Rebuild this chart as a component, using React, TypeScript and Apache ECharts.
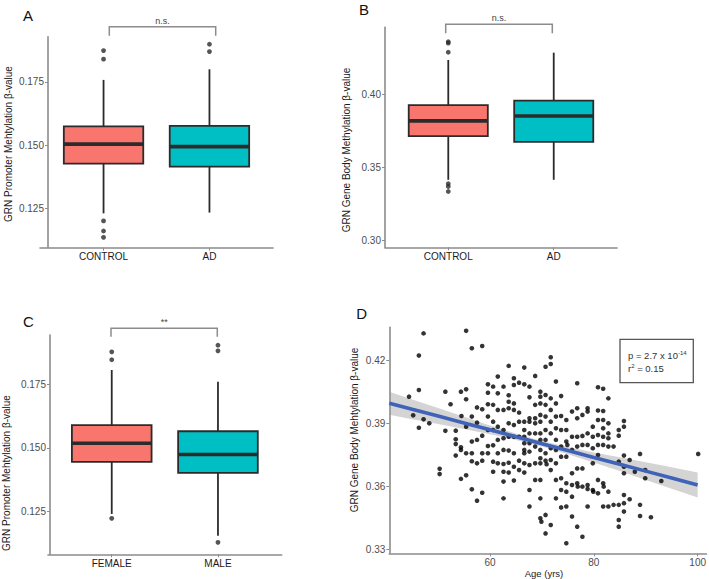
import React, { useEffect, useRef } from "react";
import * as echarts from "echarts";

// ---------- data ----------
const dxCategories = ["CONTROL", "AD"];
const sexCategories = ["FEMALE", "MALE"];
const boxColors = ["#F8766D", "#00BFC4"];

// [lower whisker, Q1, median, Q3, upper whisker]
const promoterByDx = [
  [0.1230, 0.1427, 0.1504, 0.1574, 0.1758],
  [0.1233, 0.1415, 0.1494, 0.1576, 0.1800],
];
const promoterByDxOutliers = [
  [0.1874, 0.1840, 0.1200, 0.1160, 0.1135],
  [0.1899, 0.1870],
];
const bodyByDx = [
  [0.3413, 0.3712, 0.3817, 0.3925, 0.4235],
  [0.3413, 0.3673, 0.3851, 0.3956, 0.4285],
];
const bodyByDxOutliers = [
  [0.4360, 0.4350, 0.4288, 0.3386, 0.3367, 0.3333],
  [],
];
const promoterBySex = [
  [0.1241, 0.1445, 0.1518, 0.1589, 0.1805],
  [0.1156, 0.1402, 0.1474, 0.1565, 0.1759],
];
const promoterBySexOutliers = [
  [0.1876, 0.1845, 0.1224],
  [0.1902, 0.1880, 0.1130],
];

const promoterTicks = [0.125, 0.15, 0.175];
const bodyTicks = [0.3, 0.35, 0.4];
const ageTicks = [60, 80, 100];
const ageBodyTicks = [0.33, 0.36, 0.39, 0.42];

// [age, body methylation beta]
const agePoints = [
  [44.4, 0.4028],
  [45.2, 0.3939],
  [46.3, 0.4224], [46.3, 0.4060], [46.3, 0.3880],
  [47.2, 0.4330], [47.2, 0.3920],
  [48.3, 0.3901],
  [50.3, 0.3684], [50.3, 0.3659],
  [51.4, 0.4052], [51.4, 0.3865],
  [52.4, 0.3992],
  [53.4, 0.3866], [53.4, 0.3825], [53.4, 0.3802], [53.4, 0.3747],
  [54.4, 0.4052], [54.4, 0.3787], [54.4, 0.3774], [54.4, 0.3636],
  [54.5, 0.3936],
  [55.4, 0.4342], [55.4, 0.4063], [55.4, 0.4016], [55.4, 0.3885], [55.4, 0.3758], [55.4, 0.3653],
  [56.5, 0.4259], [56.5, 0.3933], [56.5, 0.3814], [56.5, 0.3758], [56.5, 0.3720], [56.5, 0.3586],
  [57.5, 0.3977], [57.5, 0.3904], [57.5, 0.3822], [57.5, 0.3710], [57.5, 0.3532],
  [58.5, 0.4270], [58.5, 0.3968], [58.5, 0.3842], [58.5, 0.3758], [58.5, 0.3723], [58.5, 0.3570],
  [59.6, 0.4087], [59.6, 0.4047], [59.6, 0.3992], [59.6, 0.3933], [59.6, 0.3869], [59.6, 0.3793], [59.6, 0.3758],
  [60.6, 0.4076], [60.6, 0.3989], [60.6, 0.3909], [60.6, 0.3869], [60.6, 0.3796], [60.6, 0.3718], [60.6, 0.3670],
  [61.5, 0.4124], [61.5, 0.4044], [61.5, 0.3965], [61.5, 0.3885], [61.5, 0.3822], [61.5, 0.3758], [61.5, 0.3710],
  [62.6, 0.4076], [62.6, 0.3965], [62.6, 0.3869], [62.6, 0.3830], [62.6, 0.3774], [62.6, 0.3707], [62.6, 0.3670], [62.6, 0.3623], [62.6, 0.3543],
  [63.6, 0.4175], [63.6, 0.4035], [63.6, 0.4004], [63.6, 0.3973], [63.6, 0.3901], [63.6, 0.3837], [63.6, 0.3771], [63.6, 0.3713], [63.6, 0.3666],
  [64.6, 0.4116], [64.6, 0.4084], [64.6, 0.3996], [64.6, 0.3965], [64.6, 0.3893], [64.6, 0.3837], [64.6, 0.3758], [64.6, 0.3694], [64.6, 0.3628],
  [65.6, 0.4095], [65.6, 0.3952], [65.6, 0.3909], [65.6, 0.3837], [65.6, 0.3723], [65.6, 0.3678],
  [66.6, 0.4167], [66.6, 0.4087], [66.6, 0.3909], [66.6, 0.3869], [66.6, 0.3837], [66.6, 0.3806], [66.6, 0.3774], [66.6, 0.3758], [66.6, 0.3710], [66.6, 0.3666],
  [67.6, 0.4076], [67.6, 0.4025], [67.6, 0.3925], [67.6, 0.3909], [67.6, 0.3853], [67.6, 0.3806], [67.6, 0.3766], [67.6, 0.3702], [67.6, 0.3583], [67.6, 0.3504],
  [68.7, 0.4127], [68.7, 0.3989], [68.7, 0.3925], [68.7, 0.3901], [68.7, 0.3853], [68.7, 0.3790], [68.7, 0.3710], [68.7, 0.3631],
  [69.7, 0.4052], [69.7, 0.4028], [69.7, 0.3996], [69.7, 0.3941], [69.7, 0.3909], [69.7, 0.3853], [69.7, 0.3822], [69.7, 0.3774], [69.7, 0.3734], [69.7, 0.3710], [69.7, 0.3631], [69.7, 0.3543], [69.7, 0.3448], [69.9, 0.3432],
  [70.7, 0.4171], [70.7, 0.4036], [70.7, 0.3989], [70.7, 0.3933], [70.7, 0.3869], [70.7, 0.3822], [70.7, 0.3758], [70.7, 0.3723], [70.9, 0.3706], [70.7, 0.3464], [70.7, 0.3376],
  [71.7, 0.4216], [71.7, 0.4184], [71.7, 0.4020], [71.7, 0.3965], [71.7, 0.3909], [71.7, 0.3853], [71.7, 0.3782], [71.7, 0.3726], [71.7, 0.3678], [71.7, 0.3416],
  [72.7, 0.4100], [72.7, 0.3996], [72.7, 0.3933], [72.7, 0.3877], [72.7, 0.3822], [72.7, 0.3774], [72.7, 0.3710], [72.7, 0.3631], [72.7, 0.3543],
  [73.7, 0.4031], [73.7, 0.3936], [73.7, 0.3869], [73.7, 0.3790], [73.7, 0.3742], [73.7, 0.3639], [73.7, 0.3583], [73.7, 0.3500],
  [74.7, 0.3917], [74.7, 0.3869], [74.7, 0.3814], [74.9, 0.3798], [74.7, 0.3742], [74.7, 0.3615], [74.7, 0.3575], [74.7, 0.3504], [74.7, 0.3329],
  [75.8, 0.3957], [75.8, 0.3837], [75.8, 0.3774], [75.8, 0.3663], [75.8, 0.3607], [75.8, 0.3551], [75.8, 0.3456],
  [76.8, 0.4092], [76.8, 0.3973], [76.8, 0.3925], [76.8, 0.3837], [76.8, 0.3790], [76.8, 0.3686], [76.8, 0.3615], [76.9, 0.3599], [76.8, 0.3408],
  [77.8, 0.3941], [77.8, 0.3841], [77.8, 0.3798], [77.8, 0.3686], [77.8, 0.3599], [77.8, 0.3360],
  [78.8, 0.3973], [78.8, 0.3957], [78.8, 0.3853], [78.8, 0.3798], [78.8, 0.3607], [78.8, 0.3588], [78.8, 0.3504],
  [79.8, 0.3885], [79.8, 0.3837], [79.8, 0.3782], [79.8, 0.3710], [79.8, 0.3583], [79.9, 0.3575],
  [80.8, 0.4073], [80.8, 0.3962], [80.8, 0.3917], [80.8, 0.3845], [80.8, 0.3798], [80.8, 0.3750], [80.8, 0.3631], [80.8, 0.3567],
  [81.8, 0.4066], [81.8, 0.3960], [81.8, 0.3917], [81.8, 0.3877], [81.8, 0.3837], [81.8, 0.3798], [81.8, 0.3615], [81.9, 0.3599], [81.8, 0.3504],
  [82.8, 0.4020], [82.8, 0.3901], [82.8, 0.3853], [82.8, 0.3830], [82.8, 0.3790], [82.8, 0.3575], [82.8, 0.3504],
  [83.8, 0.3790], [83.8, 0.3512],
  [84.8, 0.3869], [84.8, 0.3842], [84.8, 0.3718], [84.8, 0.3512], [84.8, 0.3440], [84.8, 0.3408],
  [85.8, 0.3912], [85.8, 0.3885], [85.8, 0.3747], [85.8, 0.3694], [85.8, 0.3663], [85.8, 0.3559], [85.8, 0.3520], [85.8, 0.3480],
  [86.9, 0.3726], [86.9, 0.3539],
  [87.9, 0.3670],
  [88.9, 0.3755], [88.9, 0.3512], [88.9, 0.3459],
  [89.9, 0.3678], [89.9, 0.3639],
  [91.0, 0.3453],
  [93.0, 0.3626],
  [100.1, 0.3755],
];

// linear fit with 95% confidence band
const fitAge = [40.6, 45, 50, 55, 60, 65, 70, 75, 80, 85, 90, 95, 100];
const fitValue = [0.3997, 0.3968, 0.3936, 0.3903, 0.3870, 0.3837, 0.3804, 0.3771, 0.3738, 0.3706, 0.3673, 0.3640, 0.3607];
const fitLow = [0.3942, 0.3921, 0.3898, 0.3874, 0.3849, 0.3822, 0.3791, 0.3754, 0.3714, 0.3673, 0.3631, 0.3589, 0.3547];
const fitHigh = [0.4052, 0.4015, 0.3974, 0.3932, 0.3891, 0.3852, 0.3817, 0.3788, 0.3762, 0.3739, 0.3715, 0.3691, 0.3667];

// ---------- styling helpers ----------
const FONT = "'Liberation Sans', Arial, Helvetica, sans-serif";
const AXIS_GREY = "#8c8c8c";
const DARK = "#2b2b2b";

function yAxisDef(gridIndex: number, min: number, max: number, ticks: number[], digits: number, offset = 0) {
  return {
    type: "value",
    gridIndex,
    min,
    max,
    offset,
    axisLine: { show: true, onZero: false, lineStyle: { color: AXIS_GREY, width: 1.6 } },
    axisTick: { show: true, length: 3, customValues: ticks, lineStyle: { color: AXIS_GREY, width: 1 } },
    axisLabel: {
      customValues: ticks,
      formatter: (v: number) => v.toFixed(digits),
      fontSize: 10,
      color: "#4d4d4d",
      margin: 4,
      fontFamily: FONT,
    },
    splitLine: { show: false },
  };
}

function catXAxisDef(gridIndex: number, cats: string[]) {
  return {
    type: "value",
    gridIndex,
    min: 0.4,
    max: 2.6,
    axisLine: { show: true, onZero: false, lineStyle: { color: AXIS_GREY, width: 1.6 } },
    axisTick: { show: true, length: 3, customValues: [1, 2], lineStyle: { color: AXIS_GREY, width: 1 } },
    axisLabel: {
      customValues: [1, 2],
      formatter: (v: number) => cats[Math.round(v) - 1] ?? "",
      fontSize: 10,
      color: "#1a1a1a",
      margin: 4,
      fontFamily: FONT,
    },
    splitLine: { show: false },
  };
}

function boxSeries(gridIndex: number, stats: number[][]) {
  return {
    type: "custom",
    xAxisIndex: gridIndex,
    yAxisIndex: gridIndex,
    encode: { x: 0, y: [1, 2, 3, 4, 5] },
    data: stats.map((s, i) => [i + 1, ...s]),
    renderItem: (params: any, api: any) => {
      const x = api.value(0);
      const pts = [1, 2, 3, 4, 5].map((d) => api.coord([x, api.value(d)]));
      const cx = pts[0][0];
      const half = api.size([0.75, 0])[0] / 2;
      const fill = boxColors[params.dataIndex % boxColors.length];
      return {
        type: "group",
        children: [
          { type: "line", shape: { x1: cx, y1: pts[4][1], x2: cx, y2: pts[3][1] }, style: { stroke: DARK, lineWidth: 1.8 } },
          { type: "line", shape: { x1: cx, y1: pts[1][1], x2: cx, y2: pts[0][1] }, style: { stroke: DARK, lineWidth: 1.8 } },
          {
            type: "rect",
            shape: { x: cx - half, y: pts[3][1], width: half * 2, height: pts[1][1] - pts[3][1] },
            style: { fill, stroke: DARK, lineWidth: 1.8 },
          },
          { type: "line", shape: { x1: cx - half, y1: pts[2][1], x2: cx + half, y2: pts[2][1] }, style: { stroke: DARK, lineWidth: 3.6 } },
        ],
      };
    },
  };
}

function outlierSeries(gridIndex: number, outliers: number[][]) {
  const data: number[][] = [];
  outliers.forEach((arr, i) => arr.forEach((v) => data.push([i + 1, v])));
  return {
    type: "scatter",
    xAxisIndex: gridIndex,
    yAxisIndex: gridIndex,
    data,
    symbolSize: 4.8,
    itemStyle: { color: DARK },
    silent: true,
  };
}

function bracket(x1: number, x2: number, y: number, drop: number, label: string) {
  return [
    {
      type: "polyline",
      shape: { points: [[x1, y + drop], [x1, y], [x2, y], [x2, y + drop]] },
      style: { stroke: AXIS_GREY, lineWidth: 1.5, fill: null },
    },
    {
      type: "text",
      x: (x1 + x2) / 2,
      y: y - 6,
      style: { text: label, fontSize: 9, fill: "#444", align: "center", verticalAlign: "middle", fontFamily: FONT },
    },
  ];
}

function vTitle(x: number, y: number, text: string) {
  return {
    type: "text",
    x,
    y,
    rotation: Math.PI / 2,
    style: { text, fontSize: 10, fill: "#1a1a1a", align: "center", verticalAlign: "middle", fontFamily: FONT },
  };
}

function panelLetter(x: number, y: number, text: string) {
  return {
    type: "text",
    x,
    y,
    style: { text, fontSize: 15, fill: "#111", align: "center", verticalAlign: "middle", fontFamily: FONT },
  };
}

export default function App() {
  const ref = useRef<HTMLDivElement>(null);

  useEffect(() => {
    if (!ref.current) return;
    const chart = echarts.init(ref.current, undefined, { renderer: "svg" });

    const option: any = {
      animation: false,
      backgroundColor: "#ffffff",
      textStyle: { fontFamily: FONT },
      grid: [
        { left: 40, top: 36.7, width: 233, height: 211 },
        { left: 385, top: 27.3, width: 232, height: 220 },
        { left: 48, top: 335, width: 233.7, height: 219.3 },
        { left: 389.3, top: 327.3, width: 319, height: 226 },
      ],
      xAxis: [
        catXAxisDef(0, dxCategories),
        catXAxisDef(1, dxCategories),
        catXAxisDef(2, sexCategories),
        {
          type: "value",
          gridIndex: 3,
          min: 40.6,
          max: 101.7,
          axisLine: { show: true, onZero: false, lineStyle: { color: AXIS_GREY, width: 1.6 } },
          axisTick: { show: true, length: 3, customValues: ageTicks, lineStyle: { color: AXIS_GREY, width: 1 } },
          axisLabel: { customValues: ageTicks, fontSize: 10, color: "#4d4d4d", margin: 4, fontFamily: FONT },
          splitLine: { show: false },
        },
      ],
      yAxis: [
        yAxisDef(0, 0.1094, 0.1929, promoterTicks, 3, -8),
        yAxisDef(1, 0.295, 0.4459, bodyTicks, 2),
        yAxisDef(2, 0.1083, 0.1942, promoterTicks, 3, -2),
        yAxisDef(3, 0.3281, 0.4359, ageBodyTicks, 2),
      ],
      series: [
        boxSeries(0, promoterByDx),
        outlierSeries(0, promoterByDxOutliers),
        boxSeries(1, bodyByDx),
        outlierSeries(1, bodyByDxOutliers),
        boxSeries(2, promoterBySex),
        outlierSeries(2, promoterBySexOutliers),
        {
          type: "scatter",
          xAxisIndex: 3,
          yAxisIndex: 3,
          data: agePoints,
          symbolSize: 4.6,
          itemStyle: { color: "#000000" },
          silent: true,
        },
        {
          type: "custom",
          xAxisIndex: 3,
          yAxisIndex: 3,
          silent: true,
          data: fitAge.map((a, i) => [a, fitLow[i], fitHigh[i]]),
          encode: { x: 0, y: [1, 2] },
          renderItem: (params: any, api: any) => {
            if (params.dataIndex !== 0) return null;
            const upper = fitAge.map((a, i) => api.coord([a, fitHigh[i]]));
            const lower = fitAge.map((a, i) => api.coord([a, fitLow[i]])).reverse();
            return {
              type: "polygon",
              shape: { points: upper.concat(lower) },
              style: { fill: "rgba(153,153,153,0.42)", stroke: null },
            };
          },
        },
        {
          type: "line",
          xAxisIndex: 3,
          yAxisIndex: 3,
          data: fitAge.map((a, i) => [a, fitValue[i]]),
          showSymbol: false,
          symbol: "none",
          lineStyle: { color: "#3F63B8", width: 3.6 },
          silent: true,
        },
      ],
      graphic: [
        panelLetter(28, 15.5, "A"),
        panelLetter(364, 9.5, "B"),
        panelLetter(28.3, 321.5, "C"),
        panelLetter(361.7, 313.5, "D"),
        ...bracket(109.3, 215.7, 26.7, 9, "n.s."),
        ...bracket(445.7, 552.3, 24.3, 9, "n.s."),
        ...bracket(111, 217.3, 328.3, 8.4, "**"),
        vTitle(8, 144, "GRN Promoter Mehtylation β-value"),
        vTitle(346, 150, "GRN Gene Body Methylation β-value"),
        vTitle(6, 473, "GRN Promoter Mehtylation β-value"),
        vTitle(354, 430, "GRN Gene Body Mehtylation β-value"),
        {
          type: "text",
          x: 544,
          y: 573,
          style: { text: "Age (yrs)", fontSize: 9.5, fill: "#1a1a1a", align: "center", verticalAlign: "middle", fontFamily: FONT },
        },
        {
          type: "group",
          z: 100,
          children: [
            {
              type: "rect",
              shape: { x: 620, y: 339.3, width: 73.3, height: 43.4 },
              style: { fill: "#ffffff", stroke: "#555555", lineWidth: 1.3 },
            },
            {
              type: "text",
              x: 628,
              y: 355,
              style: {
                text: "{n|p = 2.7 x 10}{s|-14}",
                verticalAlign: "middle",
                rich: {
                  n: { fontSize: 9.5, fill: "#333", fontFamily: FONT },
                  s: { fontSize: 6, fill: "#333", fontFamily: FONT, verticalAlign: "top" },
                },
              },
            },
            {
              type: "text",
              x: 628,
              y: 368.3,
              style: {
                text: "{n|r}{s|2}{n| = 0.15}",
                verticalAlign: "middle",
                rich: {
                  n: { fontSize: 9.5, fill: "#333", fontFamily: FONT },
                  s: { fontSize: 6, fill: "#333", fontFamily: FONT, verticalAlign: "top" },
                },
              },
            },
          ],
        },
      ],
    };

    chart.setOption(option);
    return () => chart.dispose();
  }, []);

  return (
    <div
      ref={ref}
      style={{ position: "absolute", left: 0, top: 0, width: 709, height: 579, background: "#fff" }}
    />
  );
}
